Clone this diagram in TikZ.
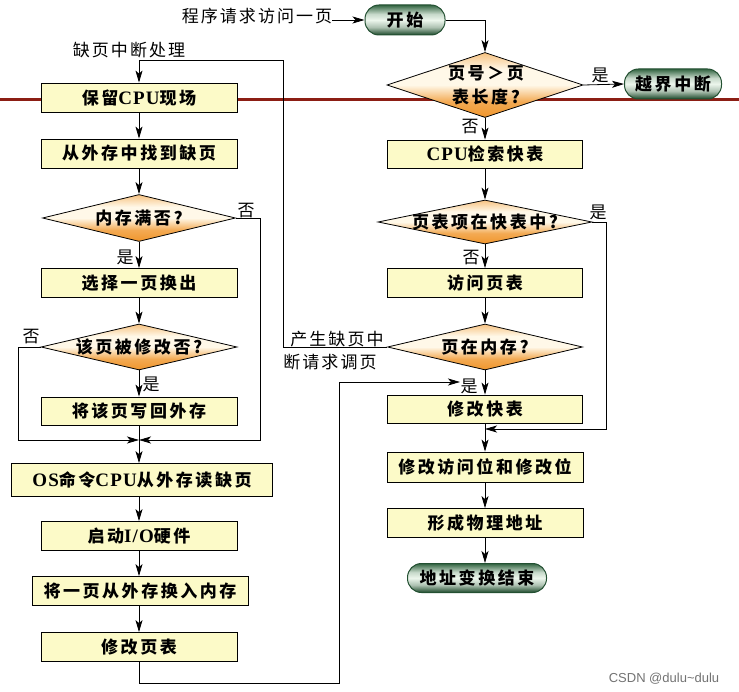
\documentclass[tikz,border=0pt]{standalone}
\usepackage{fontspec}
\setmainfont{Liberation Serif}
\newfontfamily\cjk{Noto Sans CJK SC}[LetterSpace=15]
\newfontfamily\cjkn{Noto Sans CJK SC}[LetterSpace=12]
\newfontfamily\latf{Liberation Serif}[LetterSpace=6]
\newfontfamily\wmf{Liberation Sans}
\newcommand\lat[1]{{\latf\bfseries\fontsize{19}{20}\selectfont #1}}
\usetikzlibrary{shapes.geometric,arrows.meta}
\definecolor{boxfill}{RGB}{252,250,200}
\definecolor{diaor}{RGB}{240,150,45}
\definecolor{diamid}{RGB}{255,248,232}
\definecolor{trmedge}{RGB}{35,80,50}
\definecolor{trmtop}{RGB}{50,100,65}
\definecolor{trmmid}{RGB}{236,246,236}
\definecolor{trmbot}{RGB}{28,72,42}
\definecolor{redline}{RGB}{140,30,20}
\pgfdeclareverticalshading{diashade}{100bp}{color(0bp)=(diaor); color(25bp)=(diaor); color(37bp)=(diaor!80!diamid); color(50bp)=(diamid); color(62bp)=(diamid); color(75bp)=(diaor!55!diamid); color(100bp)=(diaor!55!diamid)}
\pgfdeclareverticalshading{trmshade}{100bp}{color(0bp)=(trmbot); color(25bp)=(trmbot); color(38bp)=(trmmid!70!trmbot); color(50bp)=(trmmid); color(60bp)=(trmmid!80!trmtop); color(75bp)=(trmtop); color(100bp)=(trmtop)}
\begin{document}
\begin{tikzpicture}[x=1pt,y=-1pt,
  box/.style={draw=black, line width=0.8pt, fill=boxfill, minimum width=196pt, minimum height=29pt, inner sep=0pt, font=\cjk\bfseries\fontsize{17}{20}\selectfont},
  dia/.style={diamond, draw=black, line width=0.8pt, shading=diashade, inner sep=0pt},
  dtext/.style={inner sep=0pt, align=center, font=\cjk\bfseries\fontsize{17}{24}\selectfont},
  term/.style={rounded corners=14pt, draw=trmedge, line width=1pt, shading=trmshade, minimum height=30pt, inner sep=0pt, font=\cjk\bfseries\fontsize{17}{20}\selectfont},
  lbl/.style={inner sep=0pt, font=\cjkn\fontsize{17}{20}\selectfont},
  conn/.style={line width=0.8pt},
  arr/.style={conn, -{Stealth[length=12pt,width=7pt,inset=3pt]}}
]
\useasboundingbox (0,0) rectangle (739,692);
\fill[white] (0,0) rectangle (739,692);
% red rule
\draw[redline, line width=3pt] (0,100) -- (739,100);

% ---------- right column ----------
\node[lbl] (treq) at (257,16) {程序请求访问一页};
\node[term, minimum width=80pt] (start) at (405,20) {开始};
\node[dia, minimum width=196pt, minimum height=65pt] (d1) at (485,85) {};
\node[dtext] at (486,85) {页号＞页\\表长度?};
\node[term, minimum width=97pt] (yj) at (673,84) {越界中断};
\node[box, minimum width=195pt, minimum height=28pt] (bcpu) at (485,154) {\lat{CPU}检索快表};
\node[dia, minimum width=214pt, minimum height=44pt] (d2) at (485,222) {};
\node[dtext] at (485,222) {页表项在快表中?};
\node[box, minimum width=195pt] (bvisit) at (485,283) {访问页表};
\node[dia, minimum width=195pt, minimum height=46pt] (d3) at (485,347) {};
\node[dtext] at (485,347) {页在内存?};
\node[box, minimum width=195pt, minimum height=28pt] (btlb) at (485,409) {修改快表};
\node[box, minimum height=30pt] (bbits) at (485,467) {修改访问位和修改位};
\node[box] (bphys) at (485,523) {形成物理地址};
\node[term, minimum width=139pt, minimum height=29pt] (end) at (477,578) {地址变换结束};
\coordinate (m1) at (485,429);
\coordinate (m2) at (460,382);

% ---------- left column ----------
\node[lbl] (thandler) at (129,50) {缺页中断处理};
\node[box] (bsave) at (139,97.5) {保留\lat{CPU}现场};
\node[box] (bfind) at (139,153.5) {从外存中找到缺页};
\node[dia, minimum width=193pt, minimum height=47pt] (d4) at (139,218) {};
\node[dtext] at (139,218) {内存满否?};
\node[box] (bselect) at (139,283) {选择一页换出};
\node[dia, minimum width=196pt, minimum height=46pt] (d5) at (139,347) {};
\node[dtext] at (139,347) {该页被修改否?};
\node[box, minimum height=28pt] (bwrite) at (139,411) {将该页写回外存};
\coordinate (J) at (139,440);
\node[box, minimum width=261pt, minimum height=33pt] (bos) at (142,480) {\lat{OS}命令\lat{CPU}从外存读缺页};
\node[box] (bio) at (139,536) {启动\lat{I/O}硬件};
\node[box, minimum width=216pt] (bswap) at (140,591) {将一页从外存换入内存};
\node[box] (bpt) at (139,647) {修改页表};

% ---------- labels ----------
\node[lbl] (lno1) at (470,127) {否};
\node[lbl] (lyes1) at (600,75) {是};
\node[lbl] (lno2) at (471,258) {否};
\node[lbl] (lyes2) at (598,212) {是};
\node[lbl] (lyes3) at (469,386) {是};
\node[lbl] (lpf1) at (337,339) {产生缺页中};
\node[lbl] (lpf2) at (330,362) {断请求调页};
\node[lbl] (lyes4) at (125,257) {是};
\node[lbl] (lno4) at (246,211) {否};
\node[lbl] (lyes5) at (151,384) {是};
\node[lbl] (lno5) at (31,337) {否};

% ---------- connectors ----------
\draw[arr] (treq.east |- start.west) -- (start.west);
\draw[arr] (start.east) -| (d1.north);
\draw[arr] (d1.east) -- (yj.west);
\draw[arr] (d1.south) -- (bcpu.north);
\draw[arr] (bcpu.south) -- (d2.north);
\draw[arr] (d2.south) -- (bvisit.north);
\draw[arr] (bvisit.south) -- (d3.north);
\draw[arr] (d3.south) -- (btlb.north);
\draw[arr] (d2.east) -- ++(14,0) |- (m1);
\draw[arr] (btlb.south) -- (bbits.north);
\draw[arr] (bbits.south) -- (bphys.north);
\draw[arr] (bphys.south) -- (bphys.south |- end.north);
\draw[arr] (d3.west) -- (283,347) -- (283,60) -- (139,60) -- (bsave.north);
\draw[arr] (bsave.south) -- (bfind.north);
\draw[arr] (bfind.south) -- (d4.north);
\draw[arr] (d4.south) -- (bselect.north);
\draw[arr] (d4.east) -- (260,218) -- (260,440) -- (J);
\draw[arr] (bselect.south) -- (d5.north);
\draw[arr] (d5.south) -- (bwrite.north);
\draw[arr] (d5.west) -- (18,347) -- (18,440) -- (J);
\draw[conn] (bwrite.south) -- (J);
\draw[arr] (J) -- (bos.north -| J);
\draw[arr] (bos.south -| bio.north) -- (bio.north);
\draw[arr] (bio.south) -- (bio.south |- bswap.north);
\draw[arr] (bswap.south -| bpt.north) -- (bpt.north);
\draw[arr] (bpt.south) -- (139,683) -- (339,683) -- (339,382) -- (m2);

% watermark
\node[inner sep=0pt, font=\wmf\fontsize{13}{14}\selectfont, text=black!55] (wm) at (664,679) {CSDN @dulu\textasciitilde dulu};
\end{tikzpicture}
\end{document}
